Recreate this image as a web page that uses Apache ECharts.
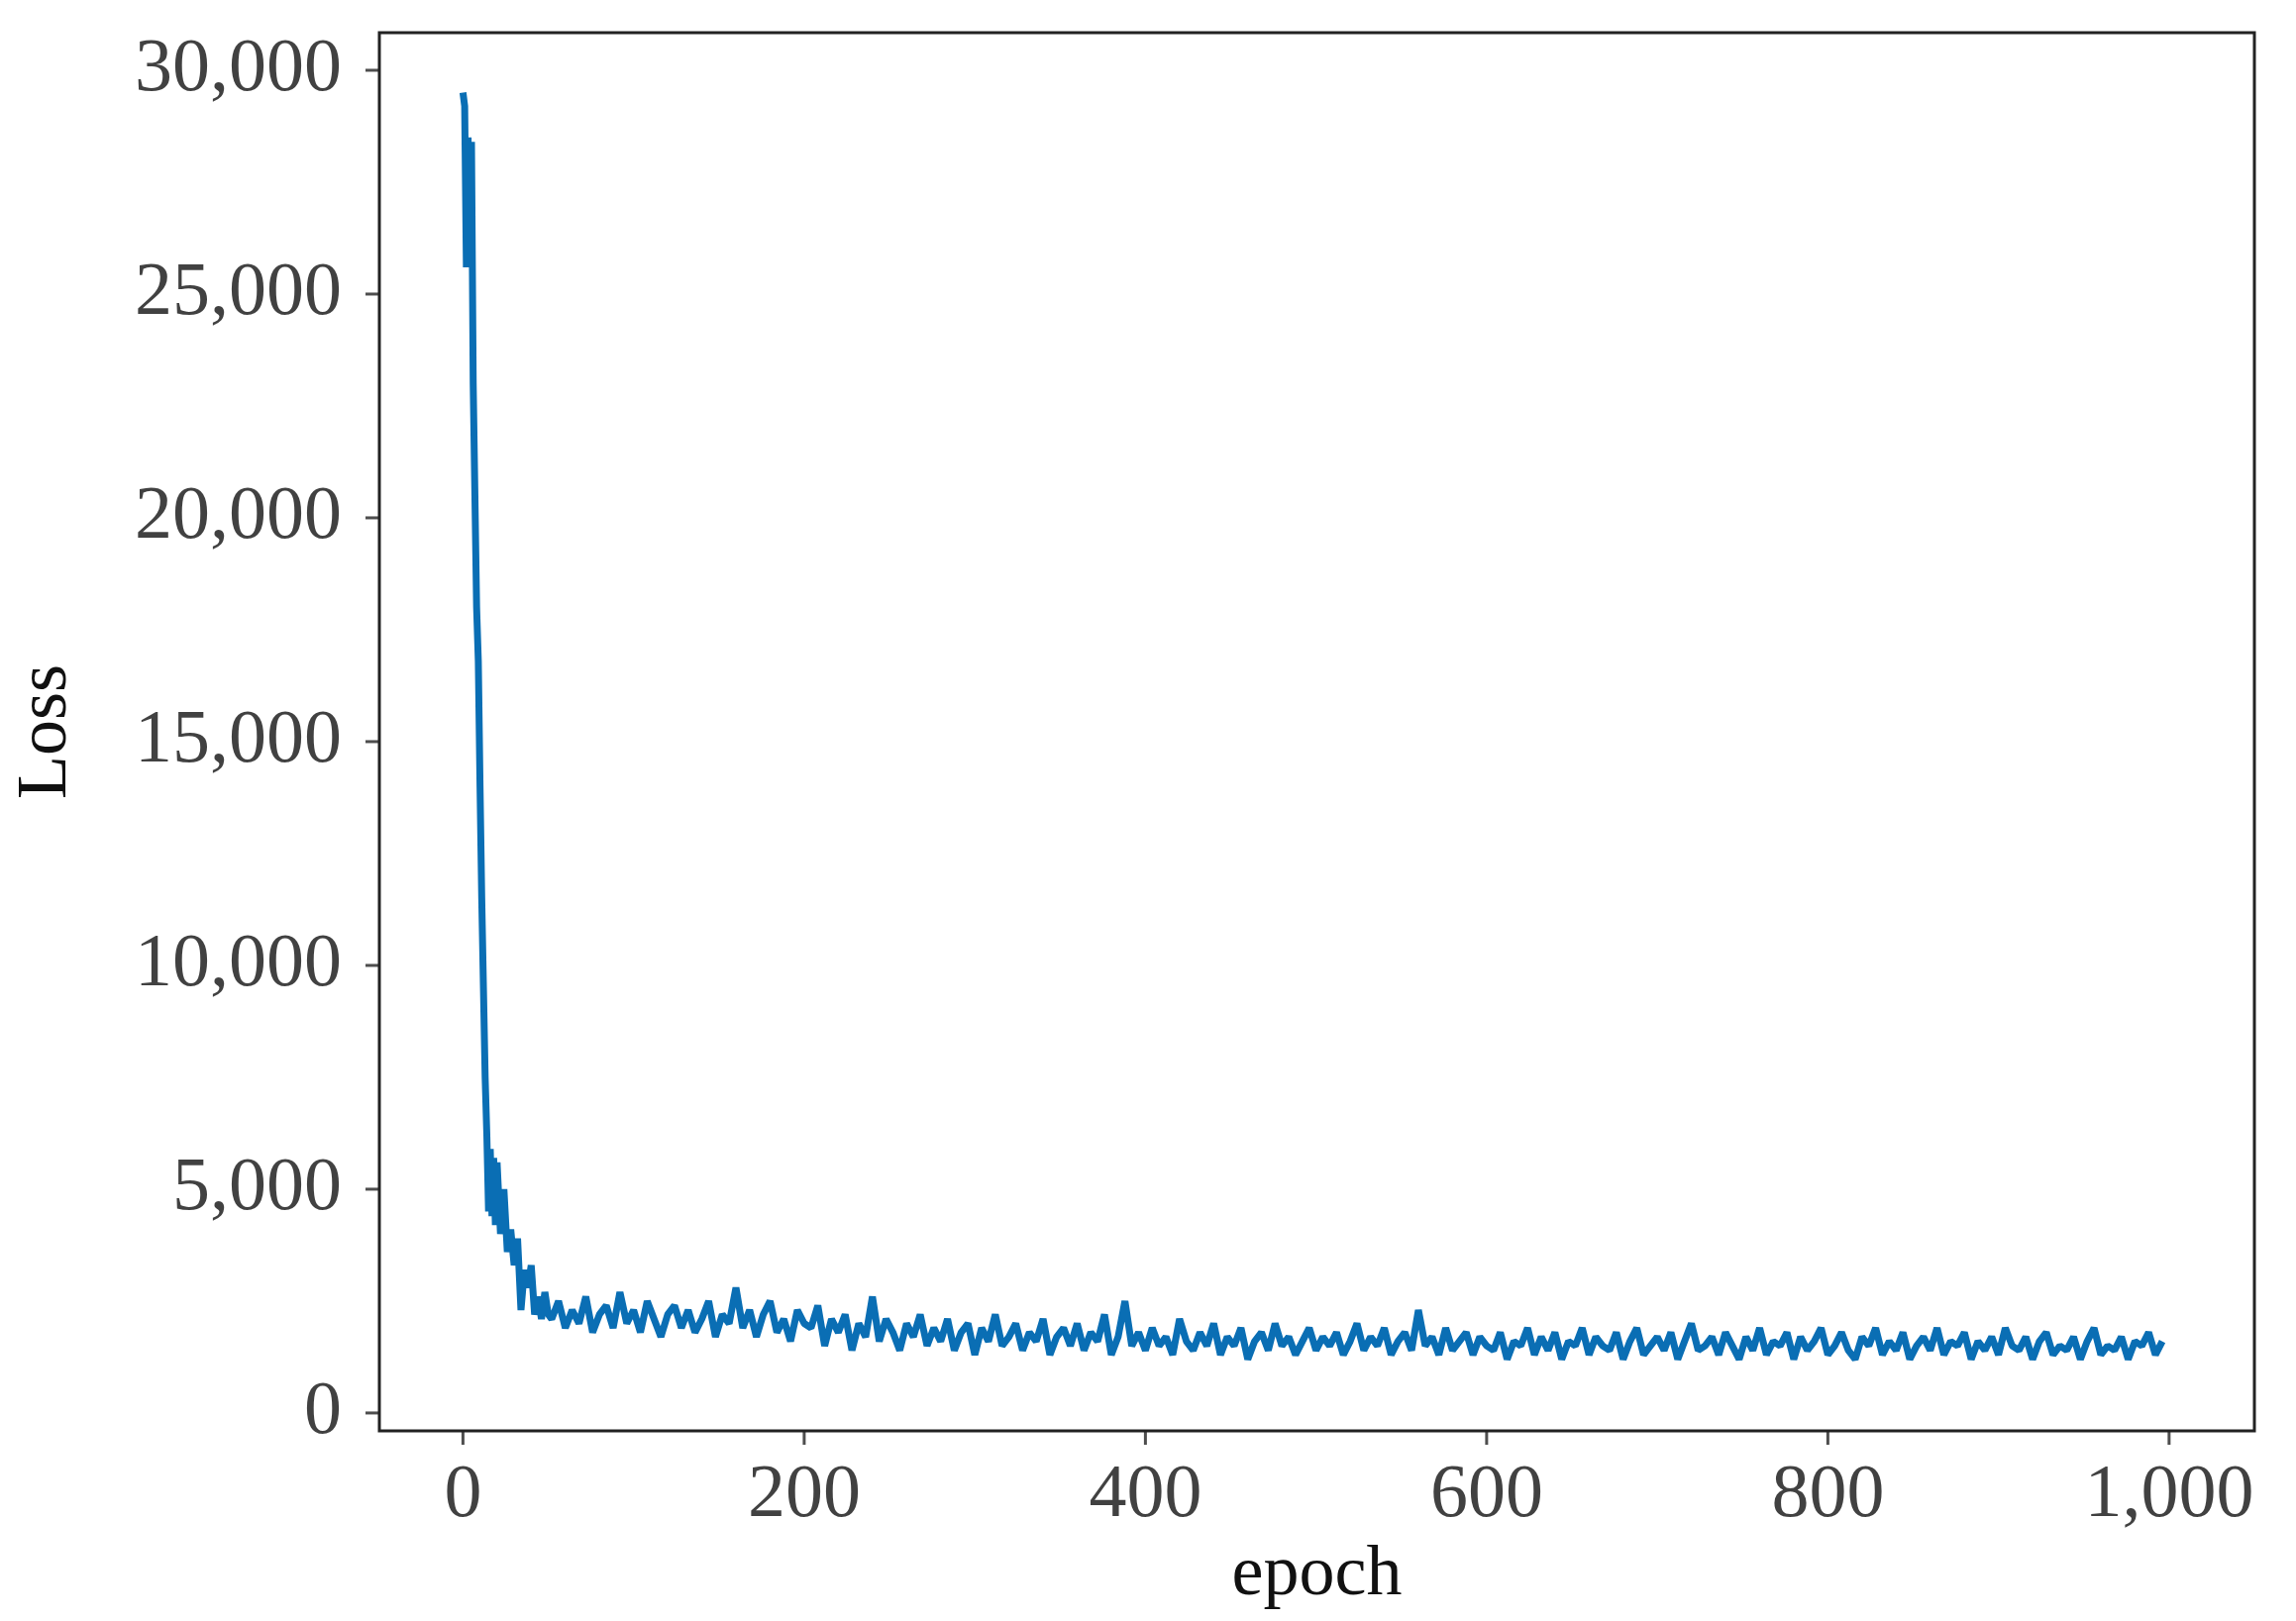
<!DOCTYPE html>
<html>
<head>
<meta charset="utf-8">
<script src="https://cdn.jsdelivr.net/npm/echarts@6/dist/echarts.min.js"></script>
<style>html,body{margin:0;padding:0;background:#fff}#chart{width:2318px;height:1637px}</style>
</head>
<body>
<div id="chart"></div>
<script>
// first epochs, irregular spacing
const earlyEpochs = [0,1,2,3,4,5,6,7,8,9,10,11,12,13,14,15,16,17,18,19,20,22,24,26,28,30,32,34,36,38,40,42,44,46,48,50];
const earlyLoss = [29500,29200,25600,28500,25900,28400,23000,20500,18000,16800,14000,11500,9500,7500,6200,4500,5900,4400,5700,4200,5600,4000,5000,3600,4100,3300,3900,2300,3200,2800,3300,2200,2600,2100,2700,2200];

// from epoch 52 onward, every 4 epochs
const LATE_START = 52;
const LATE_STEP = 4;
const lateLoss = [
	2100,2500,1900,2300,2000,2600,1800,2200,2400,1900,
	2700,2000,2300,1800,2500,2100,1700,2200,2400,1900,
	2300,1800,2100,2500,1700,2200,2000,2800,1900,2300,
	1700,2200,2500,1800,2100,1600,2300,2000,
	1900,2400,1500,2100,1800,2200,1400,2000,1700,2600,
	1600,2100,1800,1400,2000,1700,2200,1500,1900,1600,
	2100,1400,1800,2000,1300,1900,1600,2200,1500,1700,
	2000,1400,1800,1600,2100,1300,1700,1900,1500,2000,
	1400,1800,1600,2200,1300,1700,2500,1500,1800,1400,
	1900,1500,1700,1300,2100,1600,1400,1800,1500,2000,
	1300,1700,1500,1900,1200,1600,1800,1400,2000,1500,
	1700,1300,1600,1900,1400,1700,1500,1800,1300,1600,
	2000,1400,1700,1500,1900,1300,1600,1800,1400,2300,
	1500,1700,1300,1900,1400,1600,1800,1300,1700,1500,
	1400,1800,1200,1600,1500,1900,1300,1700,1400,1800,
	1200,1600,1500,1900,1300,1700,1500,1400,1800,1200,
	1600,1900,1300,1500,1700,1400,1800,1200,1600,2000,
	1400,1500,1700,1300,1800,1500,1200,1700,1400,1900,
	1300,1600,1500,1800,1200,1700,1400,1600,1900,1300,
	1500,1800,1400,1200,1700,1500,1900,1300,1600,1400,
	1800,1200,1500,1700,1400,1900,1300,1600,1500,1800,
	1200,1600,1400,1700,1300,1900,1500,1400,1700,1200,
	1600,1800,1300,1500,1400,1700,1200,1600,1900,1300,
	1500,1400,1700,1200,1600,1500,1800,1300,1600
];

const yTicks = [0, 5000, 10000, 15000, 20000, 25000, 30000];
const xTicks = [0, 200, 400, 600, 800, 1000];

const points = earlyEpochs.map((e, i) => [e, earlyLoss[i]])
	.concat(lateLoss.map((v, i) => [LATE_START + i * LATE_STEP, v]));

const fmt = (v) => v.toLocaleString('en-US');
const FONT = 'Liberation Serif';
const TEXT = '#111';

const chart = echarts.init(document.getElementById('chart'));
chart.setOption({
	backgroundColor: '#fff',
	animation: false,
	grid: { left: 383, right: 42, top: 33, bottom: 192, show: true, borderColor: '#222', borderWidth: 3, backgroundColor: 'transparent' },
	xAxis: {
		type: 'value', min: -49, max: 1050,
		name: 'epoch', nameLocation: 'middle', nameGap: 110,
		nameTextStyle: { fontFamily: FONT, fontSize: 72, color: TEXT },
		axisLine: { show: false },
		axisTick: { show: false },
		axisLabel: { show: false },
		splitLine: { show: false }
	},
	yAxis: {
		type: 'value', min: -400, max: 30840,
		name: 'Loss', nameLocation: 'middle', nameGap: 300,
		nameTextStyle: { fontFamily: FONT, fontSize: 72, color: TEXT },
		axisLine: { show: false },
		axisTick: { show: false },
		axisLabel: { show: false },
		splitLine: { show: false }
	},
	series: [
		{
			type: 'line', data: points, showSymbol: false,
			lineStyle: { color: '#0a6eb4', width: 7 },
			z: 3
		},
		{
			// tick marks and labels drawn as markers at the tick values
			type: 'scatter', data: yTicks.map(v => [-49, v]), symbol: 'rect', symbolSize: [14, 3],
			symbolOffset: [-7, 0], itemStyle: { color: '#222' },
			label: { show: true, position: 'left', distance: 24, formatter: p => fmt(p.value[1]), fontFamily: FONT, fontSize: 76, color: TEXT },
			silent: true
		},
		{
			type: 'scatter', data: xTicks.map(v => [v, -400]), symbol: 'rect', symbolSize: [3, 14],
			symbolOffset: [0, 7], itemStyle: { color: '#222' },
			label: { show: true, position: 'bottom', distance: 14, formatter: p => fmt(p.value[0]), fontFamily: FONT, fontSize: 76, color: TEXT },
			silent: true
		}
	]
});
</script>
</body>
</html>
